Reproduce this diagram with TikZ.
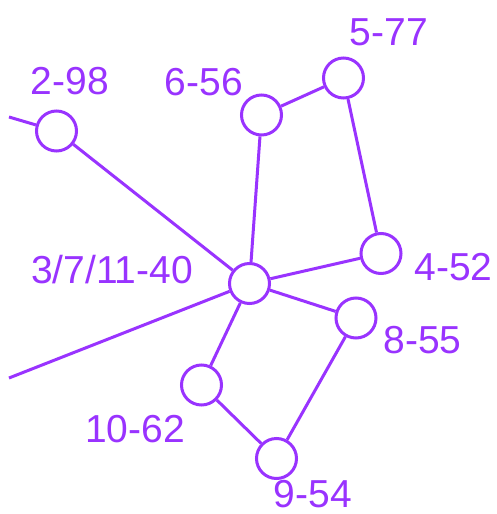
\documentclass[tikz,border=0pt]{standalone}
\usepackage{fontspec}
\setmainfont{Liberation Sans}
\definecolor{vio}{RGB}{153,51,255}
\begin{document}
\begin{tikzpicture}[x=1pt,y=-1pt,
  vert/.style={circle,draw=vio,line width=3pt,minimum size=40pt,inner sep=0pt,fill=white},
  lab/.style={text=vio,font=\fontsize{39}{39}\selectfont,inner sep=0pt},
  edge/.style={draw=vio,line width=3pt}]
\useasboundingbox (0,0) rectangle (496,514);
\fill[white] (0,0) rectangle (496,514);
\node[vert] (n298) at (56.5,131) {};
\node[vert] (n656) at (261.5,115) {};
\node[vert] (n577) at (343.5,78) {};
\node[vert] (n452) at (381,253.5) {};
\node[vert] (n40) at (249.5,283.5) {};
\node[vert] (n855) at (356,318) {};
\node[vert] (n1062) at (201.5,385) {};
\node[vert] (n954) at (276.5,458.5) {};
\coordinate (l1) at (9,117);
\coordinate (l2) at (9,378);
\node[lab] (t298) at (70,81) {2-98};
\node[lab] (t656) at (204,82) {6-56};
\node[lab] (t577) at (389,32) {5-77};
\node[lab] (t40) at (112,270) {3/7/11-40};
\node[lab] (t452) at (453.5,267.5) {4-52};
\node[lab] (t855) at (422.5,340) {8-55};
\node[lab] (t1062) at (135,429) {10-62};
\node[lab] (t954) at (313,494) {9-54};
\path[edge] (l1) -- (n298);
\path[edge] (n298) -- (n40);
\path[edge] (l2) -- (n40);
\path[edge] (n656) -- (n577);
\path[edge] (n656) -- (n40);
\path[edge] (n577) -- (n452);
\path[edge] (n452) -- (n40);
\path[edge] (n40) -- (n855);
\path[edge] (n40) -- (n1062);
\path[edge] (n855) -- (n954);
\path[edge] (n1062) -- (n954);
\end{tikzpicture}
\end{document}
